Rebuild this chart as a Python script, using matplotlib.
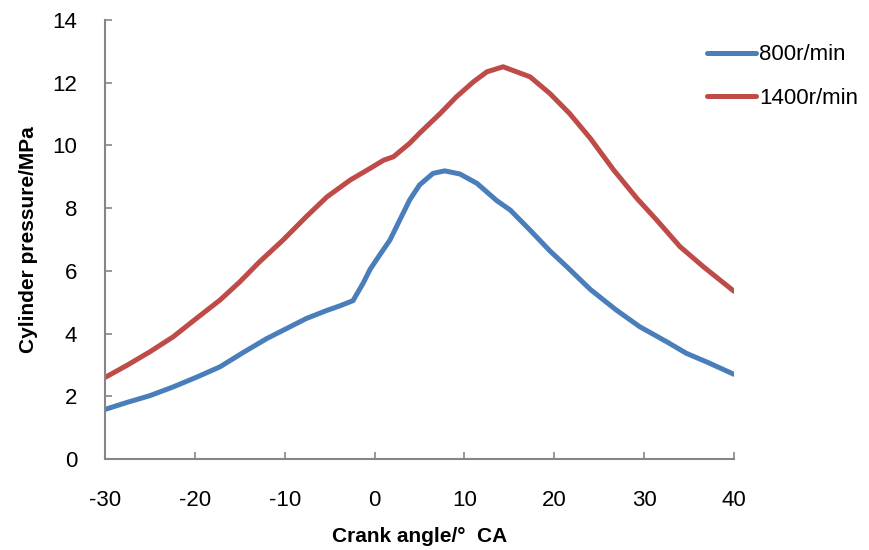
import matplotlib
matplotlib.use("Agg")
import matplotlib.pyplot as plt

plt.rcParams['font.family'] = ['Liberation Sans', 'DejaVu Sans']
plt.rcParams['axes.unicode_minus'] = False

# crank angle (deg CA) and pressure (MPa)
angle_800 = [-30, -27.6, -25, -22.4, -19.8, -17.2, -14.6, -12, -9.8, -7.6, -5.3, -3.9,
             -2.4, -1.25, -0.5, 0.6, 1.7, 2.8, 3.9, 5.0, 6.5, 7.8, 9.5, 11.4, 13.6,
             15.1, 17.3, 19.5, 21.4, 24, 26.9, 29.5, 32.5, 34.7, 37, 40]
p_800 = [1.58, 1.80, 2.02, 2.30, 2.61, 2.94, 3.40, 3.84, 4.16, 4.48, 4.74, 4.88,
         5.05, 5.62, 6.05, 6.52, 6.98, 7.62, 8.26, 8.74, 9.11, 9.19, 9.09, 8.79, 8.24,
         7.94, 7.30, 6.64, 6.13, 5.41, 4.75, 4.22, 3.74, 3.37, 3.09, 2.70]

angle_1400 = [-30, -27.6, -25, -22.4, -19.8, -17.2, -15, -12.8, -10.2, -7.6, -5.3,
              -2.7, -0.5, 1.0, 2.1, 3.9, 5.0, 7.3, 9.1, 11, 12.5, 14.3, 15.8, 17.3,
              19.5, 21.7, 24, 26.6, 29.2, 31.4, 34, 36.6, 40]
p_1400 = [2.60, 2.98, 3.42, 3.90, 4.49, 5.07, 5.65, 6.29, 6.98, 7.73, 8.36,
          8.90, 9.27, 9.53, 9.64, 10.07, 10.39, 11.02, 11.55, 12.03, 12.35, 12.51, 12.35, 12.19,
          11.66, 11.02, 10.23, 9.22, 8.31, 7.62, 6.77, 6.13, 5.35]

fig = plt.figure(figsize=(8.7, 5.5), dpi=100)
ax = fig.add_axes([0.1207, 0.1655, 0.723, 0.798])

ax.plot(angle_800, p_800, color='#4A7EBB', lw=3.6, label='800r/min', solid_capstyle='round')
ax.plot(angle_1400, p_1400, color='#BE4B48', lw=3.6, label='1400r/min', solid_capstyle='round')

ax.set_xlim(-30, 40)
ax.set_ylim(0, 14)
ax.set_xticks(range(-30, 41, 10))
ax.set_yticks(range(0, 15, 2))

for s in ['top', 'right']:
    ax.spines[s].set_visible(False)
for s in ['left', 'bottom']:
    ax.spines[s].set_color('#868686')
    ax.spines[s].set_linewidth(1.5)

ax.tick_params(direction='in', length=5, width=1.2, color='#868686', labelsize=16)
ax.tick_params(axis='x', pad=22)
ax.tick_params(axis='y', pad=20)

ax.set_xlabel('Crank angle/°  CA', fontsize=15, fontweight='bold', labelpad=12)
ax.set_ylabel('Cylinder pressure/MPa', fontsize=15, fontweight='bold', labelpad=10)

ax.legend(loc='upper left', bbox_to_anchor=(0.925, 0.99), frameon=False, fontsize=16,
          handlelength=2.2, handletextpad=0.15, labelspacing=1.0)

fig.savefig('out.png', dpi=100)
